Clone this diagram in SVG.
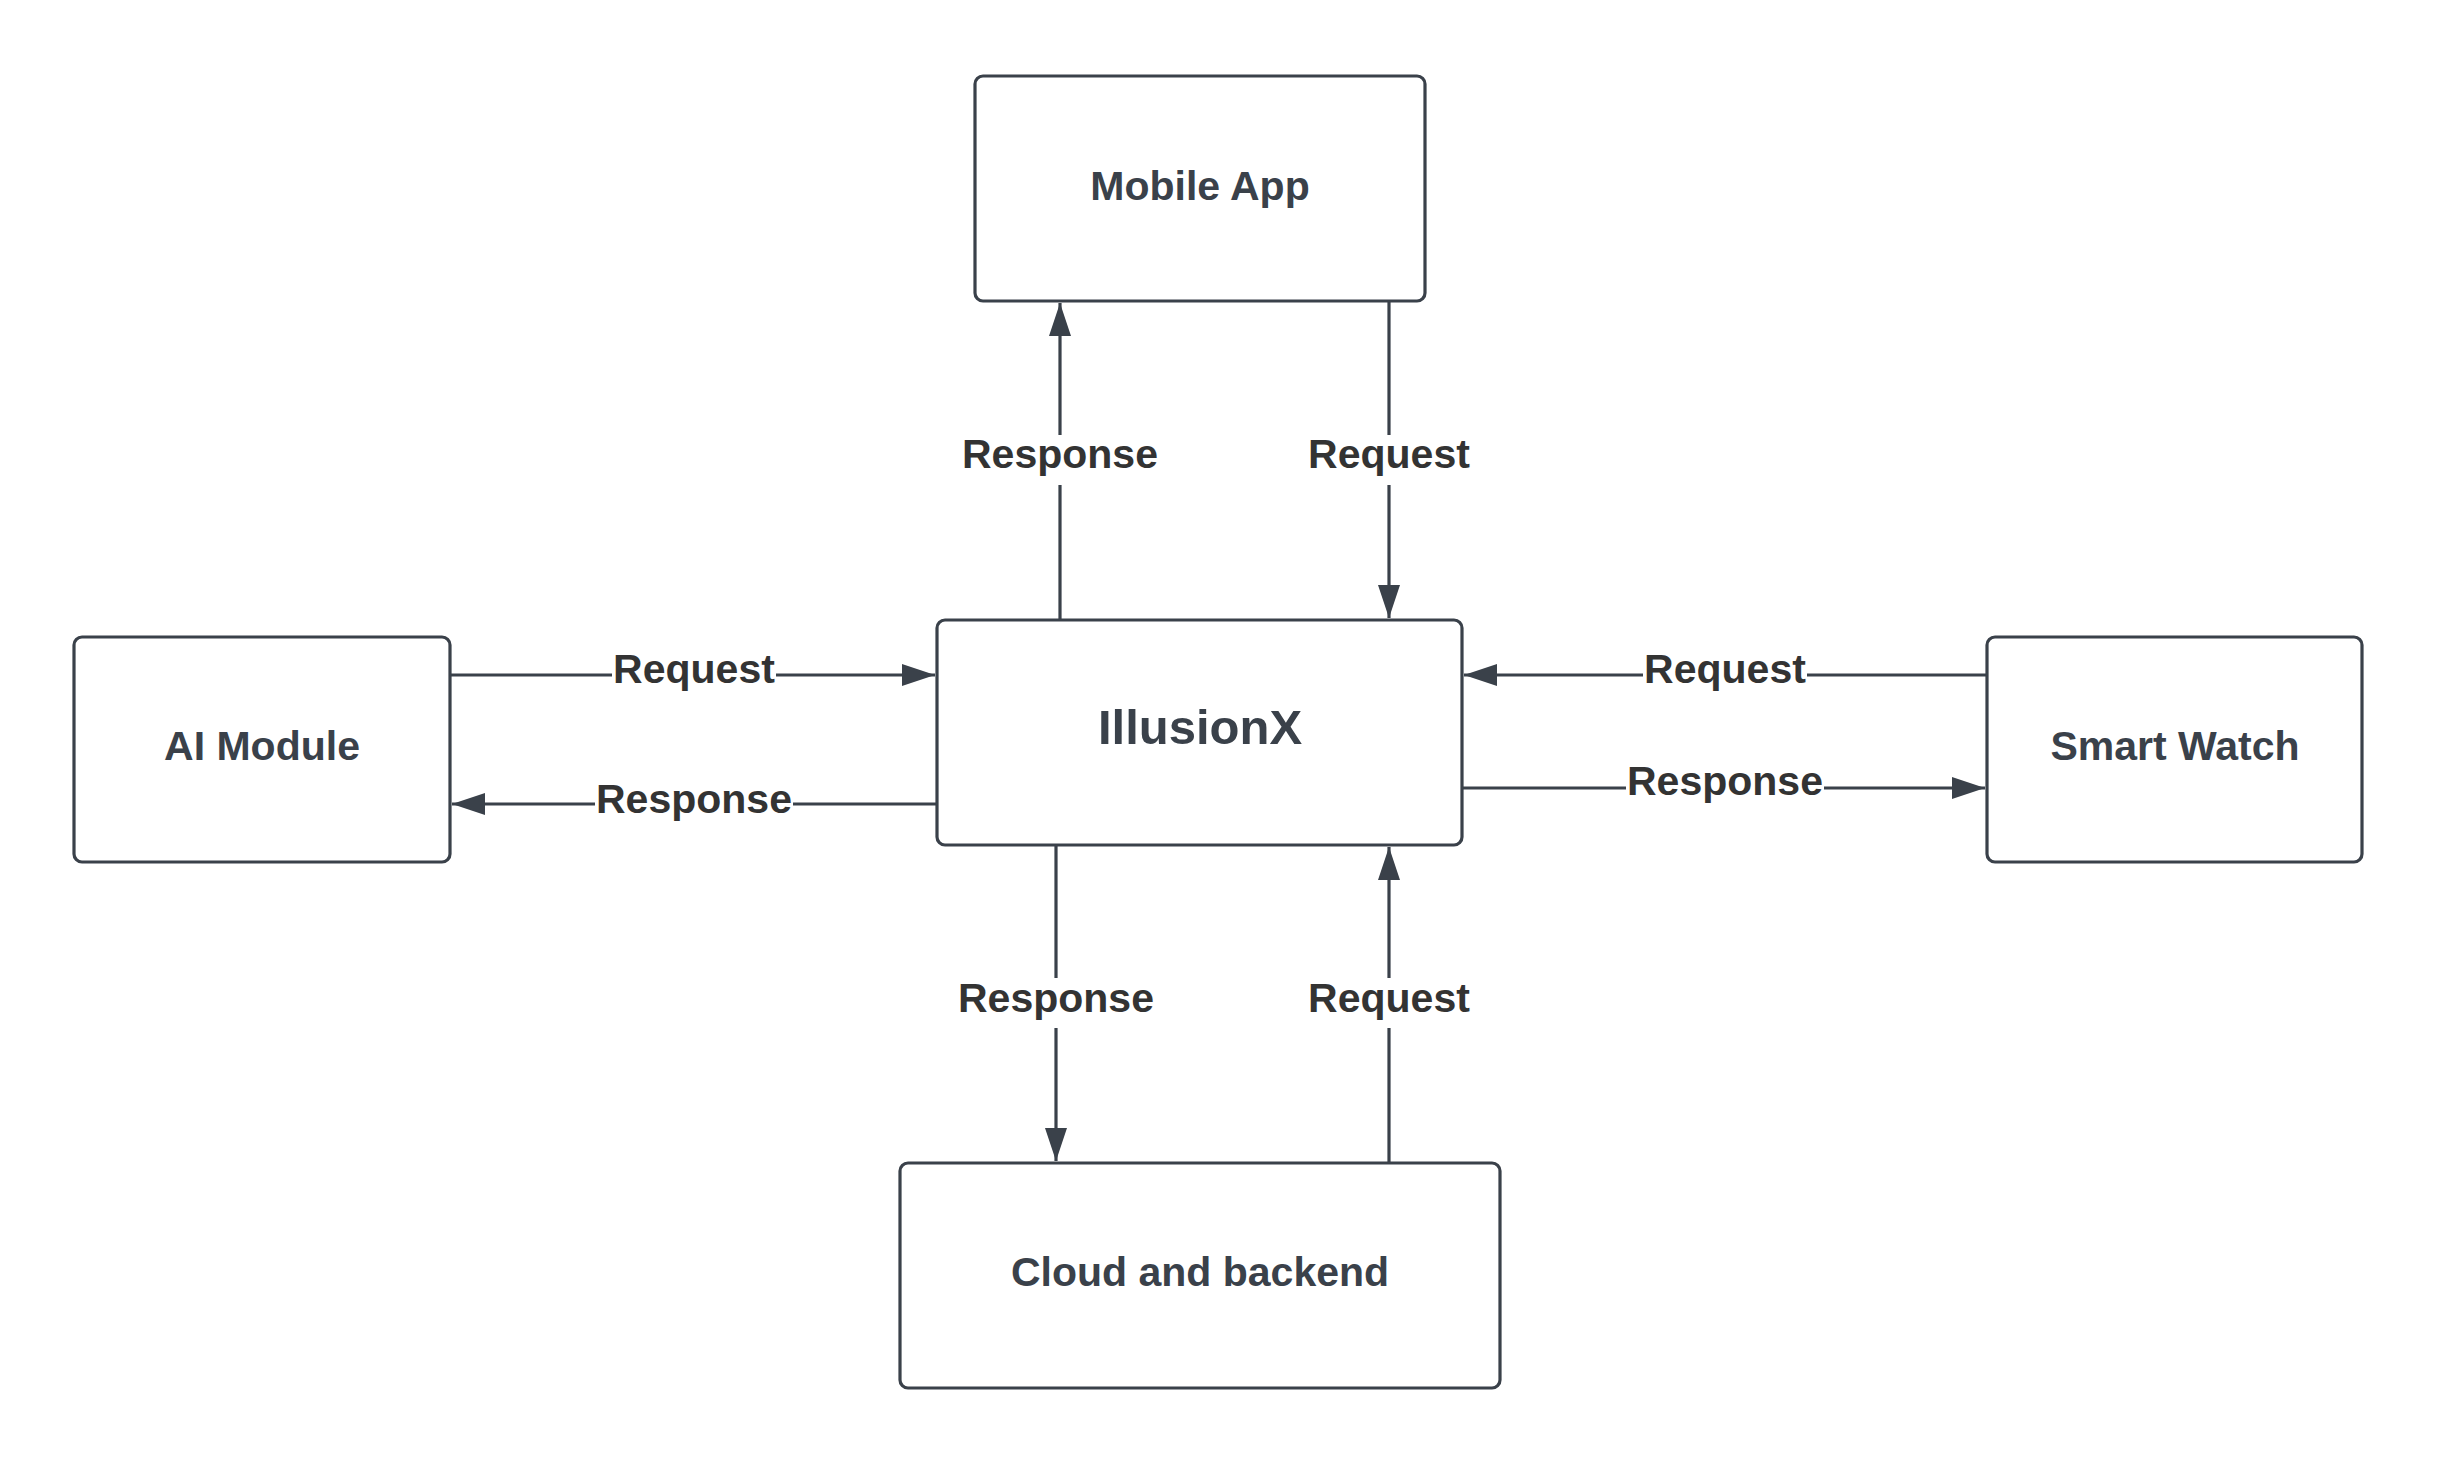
<svg xmlns="http://www.w3.org/2000/svg" width="2438" height="1463" viewBox="0 0 2438 1463">
<style>
.box{fill:#ffffff;stroke:#3a414a;stroke-width:3.2}
.ntxt{font-family:"Liberation Sans",Arial,sans-serif;font-weight:bold;font-size:41px;fill:#3a414a;text-anchor:middle}
.big{font-size:49px}
.edge{fill:none;stroke:#3a414a;stroke-width:3.2}
.lbg{fill:#ffffff}
.ltxt{font-family:"Liberation Sans",Arial,sans-serif;font-weight:bold;font-size:41px;fill:#333333;text-anchor:middle}
</style>
<defs>
<marker id="arr" viewBox="0 0 33 22" refX="33" refY="11" markerWidth="33" markerHeight="22" markerUnits="userSpaceOnUse" orient="auto">
<path d="M0,0 L33,11 L0,22 Z" fill="#3a414a"/>
</marker>
</defs>
<rect width="2438" height="1463" fill="#ffffff"/>
<g id="connectors">
<g id="e-mobile-req"><line class="edge" x1="1389" y1="301" x2="1389" y2="618" marker-end="url(#arr)"/><rect class="lbg" x="1290" y="435" width="198" height="50"/><text class="ltxt" x="1389" y="468">Request</text></g>
<g id="e-mobile-resp"><line class="edge" x1="1060" y1="620" x2="1060" y2="303" marker-end="url(#arr)"/><rect class="lbg" x="960" y="435" width="200" height="50"/><text class="ltxt" x="1060" y="468">Response</text></g>
<g id="e-ai-req"><line class="edge" x1="450" y1="675" x2="935" y2="675" marker-end="url(#arr)"/><rect class="lbg" x="612" y="650" width="164" height="46"/><text class="ltxt" x="694" y="683">Request</text></g>
<g id="e-ai-resp"><line class="edge" x1="937" y1="804" x2="452" y2="804" marker-end="url(#arr)"/><rect class="lbg" x="595" y="780" width="198" height="46"/><text class="ltxt" x="694" y="813">Response</text></g>
<g id="e-sw-req"><line class="edge" x1="1987" y1="675" x2="1464" y2="675" marker-end="url(#arr)"/><rect class="lbg" x="1643" y="650" width="164" height="46"/><text class="ltxt" x="1725" y="683">Request</text></g>
<g id="e-sw-resp"><line class="edge" x1="1462" y1="788" x2="1985" y2="788" marker-end="url(#arr)"/><rect class="lbg" x="1626" y="763" width="198" height="46"/><text class="ltxt" x="1725" y="795">Response</text></g>
<g id="e-cloud-resp"><line class="edge" x1="1056" y1="845" x2="1056" y2="1161" marker-end="url(#arr)"/><rect class="lbg" x="956" y="978" width="200" height="50"/><text class="ltxt" x="1056" y="1012">Response</text></g>
<g id="e-cloud-req"><line class="edge" x1="1389" y1="1163" x2="1389" y2="847" marker-end="url(#arr)"/><rect class="lbg" x="1290" y="978" width="198" height="50"/><text class="ltxt" x="1389" y="1012">Request</text></g>
</g>
<g id="node-mobile"><rect class="box" x="975" y="76" width="450" height="225" rx="8"/><text class="ntxt" x="1200" y="200">Mobile App</text></g>
<g id="node-illusionx"><rect class="box" x="937" y="620" width="525" height="225" rx="8"/><text class="ntxt big" x="1200" y="744">IllusionX</text></g>
<g id="node-ai"><rect class="box" x="74" y="637" width="376" height="225" rx="8"/><text class="ntxt" x="262" y="760">AI Module</text></g>
<g id="node-smartwatch"><rect class="box" x="1987" y="637" width="375" height="225" rx="8"/><text class="ntxt" x="2175" y="760">Smart Watch</text></g>
<g id="node-cloud"><rect class="box" x="900" y="1163" width="600" height="225" rx="8"/><text class="ntxt" x="1200" y="1286">Cloud and backend</text></g>
</svg>
